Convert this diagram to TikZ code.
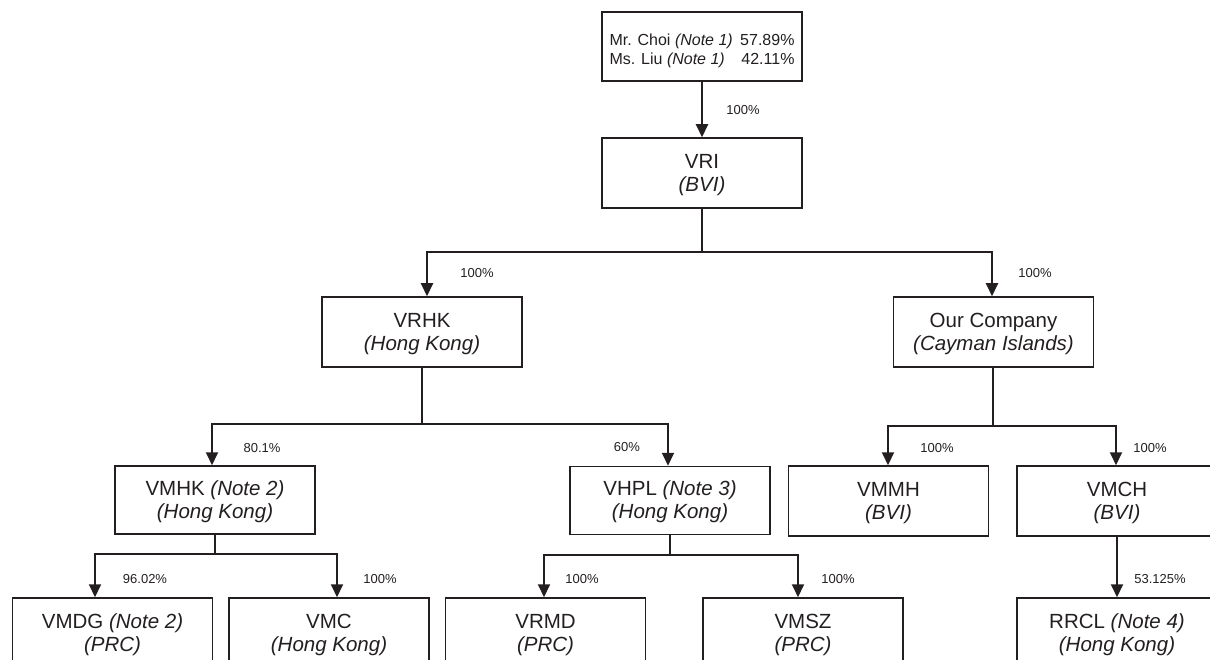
\documentclass[tikz,border=0pt]{standalone}
\usepackage{fontspec}
\setmainfont{Liberation Sans}
\usetikzlibrary{arrows.meta}
\definecolor{ink}{HTML}{231F20}
\begin{document}
\begin{tikzpicture}[x=1pt,y=-1pt,
  entity/.style={draw=ink,line width=1.5pt,fill=white,minimum width=200pt,minimum height=70pt,
    inner sep=0pt,align=center,text=ink,font=\fontsize{20.5}{23}\selectfont},
  pct/.style={text=ink,inner sep=0pt,font=\fontsize{13}{15}\selectfont},
  link/.style={draw=ink,line width=2pt},
  arr/.style={link,-{Triangle[length=13pt,width=12pt]}}]
\useasboundingbox (0,0) rectangle (1210,660);
\clip (0,0) rectangle (1210,660);

% shareholders
\node[entity,minimum height=69pt,font=\fontsize{16}{19}\selectfont] (top) at (702,46.5)
  {\makebox[185pt]{\rule{0pt}{20pt}Mr. Choi \textit{(Note 1)}\hfill 57.89\%}\\
   \makebox[185pt]{Ms. Liu \textit{(Note 1)}\hfill 42.11\%}};

% entities
\node[entity] (vri)  at (702,173) {\rule{0pt}{18pt}VRI\\\textit{(BVI)}};
\node[entity] (vrhk) at (422,332) {\rule{0pt}{18pt}VRHK\\\textit{(Hong Kong)}};
\node[entity] (our)  at (993.5,332) {\rule{0pt}{18pt}Our Company\\\textit{(Cayman Islands)}};
\node[entity,minimum height=68pt] (vmhk) at (215,500) {\rule{0pt}{18pt}VMHK \textit{(Note 2)}\\\textit{(Hong Kong)}};
\node[entity,minimum height=68pt] (vhpl) at (670,500.5) {\rule{0pt}{18pt}VHPL \textit{(Note 3)}\\\textit{(Hong Kong)}};
\node[entity] (vmmh) at (888.5,501) {\rule{0pt}{18pt}VMMH\\\textit{(BVI)}};
\node[entity] (vmch) at (1117,501) {\rule{0pt}{18pt}VMCH\\\textit{(BVI)}};
\node[entity] (vmdg) at (112.5,633) {\rule{0pt}{18pt}VMDG \textit{(Note 2)}\\\textit{(PRC)}};
\node[entity] (vmc)  at (329,633) {\rule{0pt}{18pt}VMC\\\textit{(Hong Kong)}};
\node[entity] (vrmd) at (545.5,633) {\rule{0pt}{18pt}VRMD\\\textit{(PRC)}};
\node[entity] (vmsz) at (803,633) {\rule{0pt}{18pt}VMSZ\\\textit{(PRC)}};
\node[entity] (rrcl) at (1117,633) {\rule{0pt}{18pt}RRCL \textit{(Note 4)}\\\textit{(Hong Kong)}};

% bus points
\coordinate (b1) at (702,252);
\coordinate (b2) at (422,424);
\coordinate (b3) at (993,426);
\coordinate (b4) at (215,554);
\coordinate (b5) at (670,555);

% connectors
\draw[arr] (top.south) -- (vri.north);
\draw[link] (vri.south) -- (b1);
\draw[arr] (b1) -| ([xshift=5pt]vrhk.north);
\draw[arr] (b1) -| ([xshift=-1.5pt]our.north);
\draw[link] (vrhk.south) -- (b2);
\draw[arr] (b2) -| ([xshift=-3pt]vmhk.north);
\draw[arr] (b2) -| ([xshift=-2pt]vhpl.north);
\draw[link] ([xshift=-0.5pt]our.south) -- (b3);
\draw[arr] (b3) -| ([xshift=-0.5pt]vmmh.north);
\draw[arr] (b3) -| ([xshift=-1pt]vmch.north);
\draw[link] (vmhk.south) -- (b4);
\draw[arr] (b4) -| ([xshift=-17.5pt]vmdg.north);
\draw[arr] (b4) -| ([xshift=8pt]vmc.north);
\draw[link] (vhpl.south) -- (b5);
\draw[arr] (b5) -| ([xshift=-1.5pt]vrmd.north);
\draw[arr] (b5) -| ([xshift=-5pt]vmsz.north);
\draw[arr] (vmch.south) -- (rrcl.north);

% ownership percentages
\node[pct] (p0) at (743,110) {100\%};
\node[pct] (p1) at (477,273) {100\%};
\node[pct] (p2) at (1035,273) {100\%};
\node[pct] (p3) at (262,448) {80.1\%};
\node[pct] (p4) at (627,447) {60\%};
\node[pct] (p5) at (937,448) {100\%};
\node[pct] (p6) at (1150,448) {100\%};
\node[pct] (p7) at (145,579) {96.02\%};
\node[pct] (p8) at (380,579) {100\%};
\node[pct] (p9) at (582,579) {100\%};
\node[pct] (p10) at (838,579) {100\%};
\node[pct] (p11) at (1160,579) {53.125\%};
\end{tikzpicture}
\end{document}
